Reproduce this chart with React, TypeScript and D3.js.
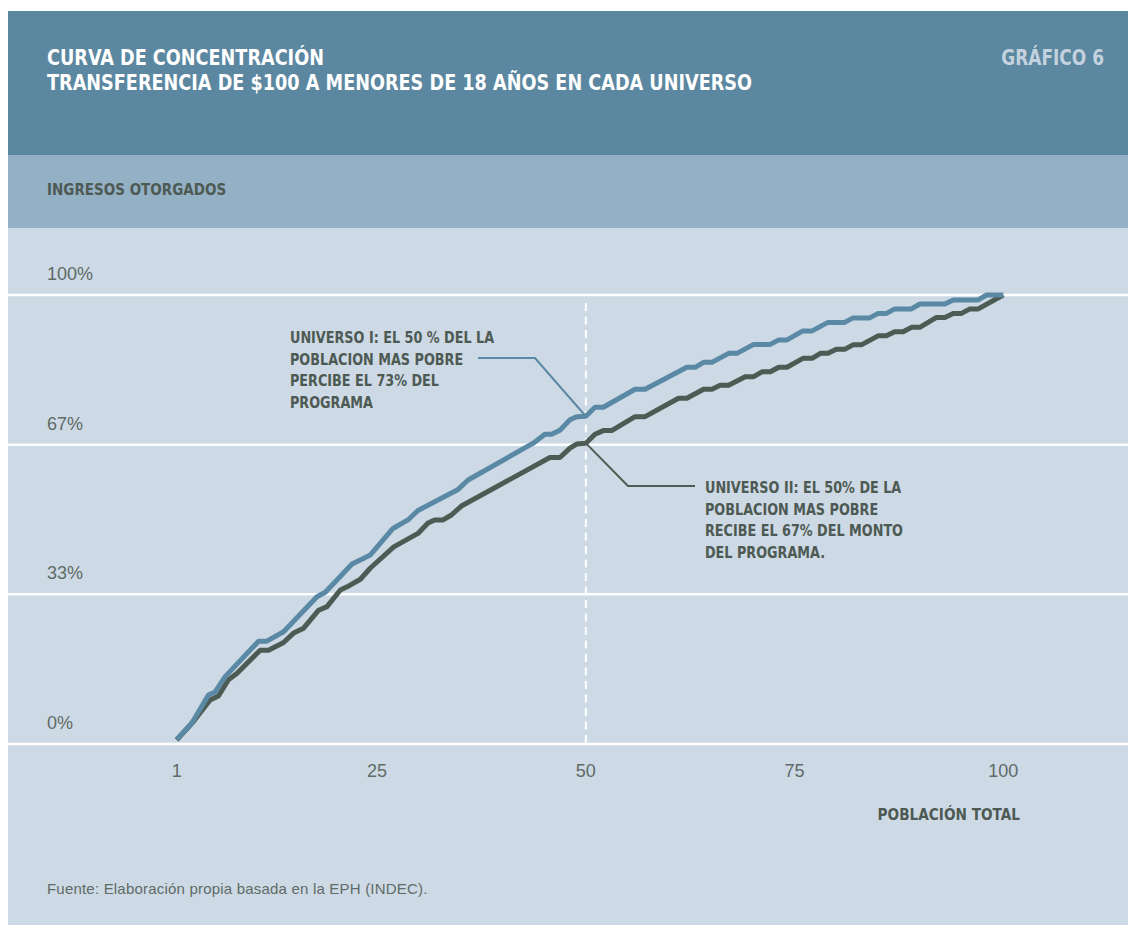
import React from "react";
import * as d3 from "d3";

// Población (percentil) y porcentaje acumulado de ingresos otorgados, Universo I
const universoIPop = [1, 2.8, 4.8, 5.6, 6.8, 10.8, 11.8, 13.8, 17.8, 18.8, 22, 24.2, 26.9, 28.7, 29.9, 34.7, 35.9, 43.7, 45.1, 45.9, 46.9, 48.1, 48.9, 50, 51.1, 52.1, 55.9, 57.1, 62.1, 63.1, 64.1, 65.1, 67.1, 68.1, 70.1, 72.1, 73.1, 74.1, 76, 77.1, 79, 81, 82, 84, 85, 86, 87, 89, 90, 93, 94, 97, 98, 100];
const universoIShare = [1.0, 4.6, 10.9, 11.6, 15.0, 22.9, 22.9, 25.0, 32.8, 33.8, 40.1, 42.1, 48.0, 49.9, 52.0, 56.7, 58.8, 67.0, 69.0, 69.0, 69.9, 72.2, 72.9, 73.0, 75.0, 75.0, 79.0, 79.0, 83.9, 83.9, 85.0, 85.0, 87.0, 87.0, 89.0, 89.0, 90.0, 90.0, 92.0, 92.0, 93.9, 93.9, 94.9, 94.9, 95.9, 95.9, 96.9, 96.9, 98.0, 98.0, 98.9, 98.9, 100, 100];

// Universo II
const universoIIPop = [1, 3, 5, 6, 7.2, 8.2, 11, 12, 13.8, 15, 16.2, 18, 19, 20.6, 21.4, 23, 24.2, 27, 29.9, 31.1, 31.9, 32.9, 33.9, 35.1, 45.7, 46.9, 48.1, 48.9, 50, 51.1, 52.1, 53.1, 55.9, 57.1, 61.1, 62.1, 64.1, 65.1, 66.1, 67.1, 69.1, 70.1, 71.1, 72.1, 73.1, 74.1, 76, 77.1, 78.1, 79, 80, 81, 82, 83, 85, 86, 87, 88, 89, 90, 92, 93, 94, 95, 96, 97, 100];
const universoIIShare = [0.9, 5.0, 9.8, 10.7, 14.3, 15.7, 20.9, 20.9, 22.6, 24.7, 25.8, 29.8, 30.6, 34.3, 35.0, 36.7, 39.2, 43.9, 46.9, 49.2, 49.9, 49.9, 51.0, 53.0, 63.8, 63.8, 65.9, 66.8, 67.0, 69.0, 69.8, 69.8, 72.9, 72.9, 77.0, 77.0, 79.0, 79.0, 79.9, 79.9, 81.8, 81.8, 82.9, 82.9, 83.9, 83.9, 85.9, 85.9, 87.0, 87.0, 87.9, 87.9, 88.9, 88.9, 90.9, 90.9, 91.8, 91.8, 92.8, 92.8, 95.0, 95.0, 95.9, 95.9, 96.9, 96.9, 100];

const populationTicks = [1, 25, 50, 75, 100];
const shareTicks = [0, 100 / 3, 200 / 3, 100];
const shareTickLabels = ["0%", "33%", "67%", "100%"];

const titleLines = [
  "CURVA DE CONCENTRACIÓN",
  "TRANSFERENCIA DE $100 A MENORES DE 18 AÑOS EN CADA UNIVERSO",
];
const chartNumber = "GRÁFICO 6";
const yAxisTitle = "INGRESOS OTORGADOS";
const xAxisTitle = "POBLACIÓN TOTAL";
const sourceNote = "Fuente: Elaboración propia basada en la EPH (INDEC).";
const noteUniversoI = ["UNIVERSO I: EL 50 % DEL LA", "POBLACION MAS POBRE", "PERCIBE EL 73% DEL", "PROGRAMA"];
const noteUniversoII = ["UNIVERSO II: EL 50% DE LA", "POBLACION MAS POBRE", "RECIBE EL 67% DEL MONTO", "DEL PROGRAMA."];
const markerPop = 50;

const COLORS = {
  header: "#5b87a0",
  band: "#94b0c5",
  plot: "#cdd9e4",
  blue: "#5a89a5",
  dark: "#4c5b53",
  text: "#4d5a54",
  tick: "#5f6b67",
  chartNo: "#c3d2de",
};

const condensed = "'DejaVu Sans Condensed', 'DejaVu Sans', sans-serif";
const regular = "'Liberation Sans', Arial, sans-serif";

type CondProps = {
  x: number;
  y: number;
  sx: number;
  size: number;
  fill: string;
  anchor?: "start" | "end" | "middle";
  children: React.ReactNode;
};

// Bold text squeezed horizontally to get a narrow grotesque look
function CondText({ x, y, sx, size, fill, anchor = "start", children }: CondProps) {
  return (
    <text
      transform={`translate(${x},${y}) scale(${sx},1)`}
      textAnchor={anchor}
      fill={fill}
      fontFamily={condensed}
      fontWeight="bold"
      fontSize={size}
    >
      {children}
    </text>
  );
}

export default function App() {
  const W = 1128;
  const H = 925;
  const x = d3.scaleLinear().domain([1, 100]).range([176.7, 1003.3]);
  const y = d3.scaleLinear().domain([0, 100]).range([744, 295]);

  const line = d3
    .line<[number, number]>()
    .x((d) => x(d[0]))
    .y((d) => y(d[1]));

  const seriesI: [number, number][] = universoIPop.map((p, i) => [p, universoIShare[i]]);
  const seriesII: [number, number][] = universoIIPop.map((p, i) => [p, universoIIShare[i]]);

  const markI = seriesI.find((d) => d[0] === markerPop)!;
  const markII = seriesII.find((d) => d[0] === markerPop)!;

  const lineH = 21.5;

  return (
    <svg
      width={W}
      height={H}
      style={{ position: "absolute", left: 0, top: 0, display: "block" }}
    >
      <rect x={0} y={0} width={W} height={H} fill="#ffffff" />
      {/* header */}
      <rect x={8} y={11} width={W - 8} height={144} fill={COLORS.header} />
      <rect x={8} y={155} width={W - 8} height={73} fill={COLORS.band} />
      <rect x={8} y={228} width={W - 8} height={H - 228} fill={COLORS.plot} />

      {titleLines.map((t, i) => (
        <CondText key={t} x={47} y={65 + i * 25} sx={0.935} size={21} fill="#ffffff">
          {t}
        </CondText>
      ))}
      <CondText x={1104} y={65} sx={0.9} size={21} fill={COLORS.chartNo} anchor="end">
        {chartNumber}
      </CondText>
      <CondText x={47} y={195} sx={0.91} size={16.5} fill={COLORS.text}>
        {yAxisTitle}
      </CondText>

      {/* horizontal grid with labels */}
      {shareTicks.map((t, i) => (
        <g key={i}>
          <line x1={8} x2={W} y1={y(t)} y2={y(t)} stroke="#ffffff" strokeWidth={2.5} />
          <text
            x={47}
            y={y(t) - 15}
            fill={COLORS.tick}
            fontFamily={regular}
            fontSize={18}
          >
            {shareTickLabels[i]}
          </text>
        </g>
      ))}

      {/* median population marker */}
      <line
        x1={x(markerPop)}
        x2={x(markerPop)}
        y1={303}
        y2={y(0)}
        stroke="#ffffff"
        strokeWidth={2}
        strokeDasharray="8 5.5"
      />

      {/* concentration curves */}
      <path d={line(seriesII) ?? ""} fill="none" stroke={COLORS.dark} strokeWidth={5} strokeLinejoin="round" />
      <path d={line(seriesI) ?? ""} fill="none" stroke={COLORS.blue} strokeWidth={5} strokeLinejoin="round" />

      {/* x axis */}
      {populationTicks.map((t) => (
        <text
          key={t}
          x={x(t)}
          y={777}
          textAnchor="middle"
          fill={COLORS.tick}
          fontFamily={regular}
          fontSize={18}
        >
          {t}
        </text>
      ))}
      <CondText x={1020} y={820} sx={0.92} size={16.5} fill={COLORS.text} anchor="end">
        {xAxisTitle}
      </CondText>

      {/* annotations */}
      <polyline
        points={`478,358 535,358 ${x(markI[0])},${y(markI[1])}`}
        fill="none"
        stroke={COLORS.blue}
        strokeWidth={2}
      />
      {noteUniversoI.map((t, i) => (
        <CondText key={t} x={290} y={343 + i * lineH} sx={0.89} size={16} fill={COLORS.text}>
          {t}
        </CondText>
      ))}
      <polyline
        points={`${x(markII[0])},${y(markII[1])} 628,486 695,486`}
        fill="none"
        stroke={COLORS.dark}
        strokeWidth={2}
      />
      {noteUniversoII.map((t, i) => (
        <CondText key={t} x={705} y={493 + i * lineH} sx={0.89} size={16} fill={COLORS.text}>
          {t}
        </CondText>
      ))}

      <text x={47} y={894} fill={COLORS.tick} fontFamily={regular} fontSize={15} letterSpacing={0.2}>
        {sourceNote}
      </text>
    </svg>
  );
}
